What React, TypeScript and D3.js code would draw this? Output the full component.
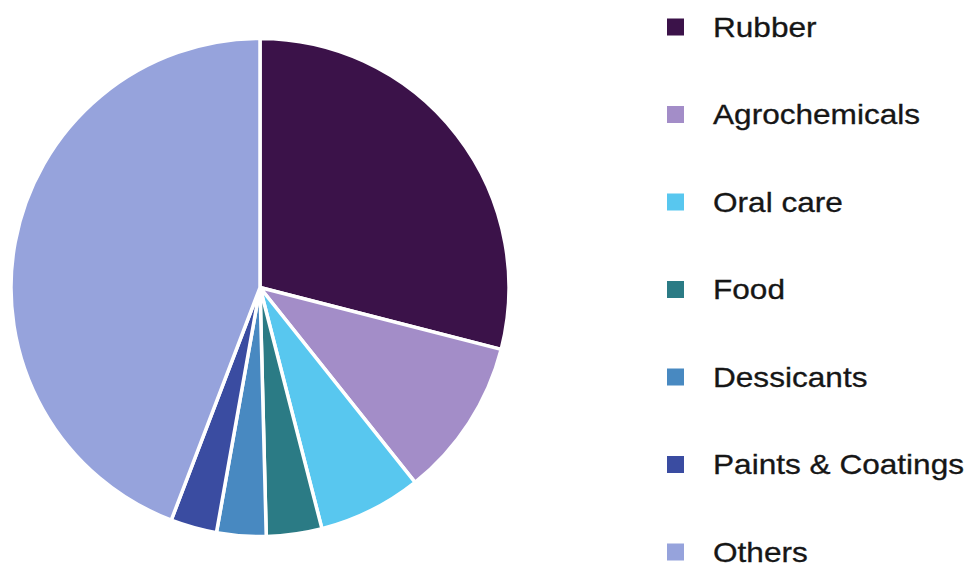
import React from "react";
import * as d3 from "d3";

const categories = ["Rubber", "Agrochemicals", "Oral care", "Food", "Dessicants", "Paints & Coatings", "Others"];
const shares = [29.0, 10.3, 6.7, 3.6, 3.2, 3.0, 44.2];
const colors = ["#3b1249", "#a38dc8", "#58c7ef", "#2b7b85", "#4889c1", "#3a4ca1", "#96a3dc"];

const W = 970;
const H = 566;
const cx = 260;
const cy = 287.5;
const R = 249;

export default function App() {
  const data = categories.map((c, i) => ({ name: c, value: shares[i], color: colors[i] }));
  const pie = d3.pie<any>().value((d: any) => d.value).sort(null);
  const arcs = pie(data);
  const arc = d3.arc<any>().innerRadius(0).outerRadius(R);

  const legendY = d3.scalePoint<string>().domain(categories).range([27, 552]);

  return (
    <svg width={W} height={H} style={{ position: "absolute", left: 0, top: 0, background: "#fff" }}>
      <g transform={`translate(${cx},${cy})`}>
        {arcs.map((a, i) => (
          <path key={i} d={arc(a) as string} fill={a.data.color} stroke="#fff" strokeWidth={3.5} strokeLinejoin="round" />
        ))}
      </g>
      <g>
        {categories.map((c, i) => {
          const y = legendY(c) as number;
          return (
            <g key={c}>
              <rect x={667} y={y - 8.5} width={17} height={17} fill={colors[i]} />
              <text
                transform={`translate(713,${y + 9.5}) scale(1.17,1)`}
                fontFamily="'Liberation Sans', Arial, sans-serif"
                fontSize={27}
                fill="#161616"
                stroke="#161616"
                strokeWidth={0.3}
              >
                {c}
              </text>
            </g>
          );
        })}
      </g>
    </svg>
  );
}
